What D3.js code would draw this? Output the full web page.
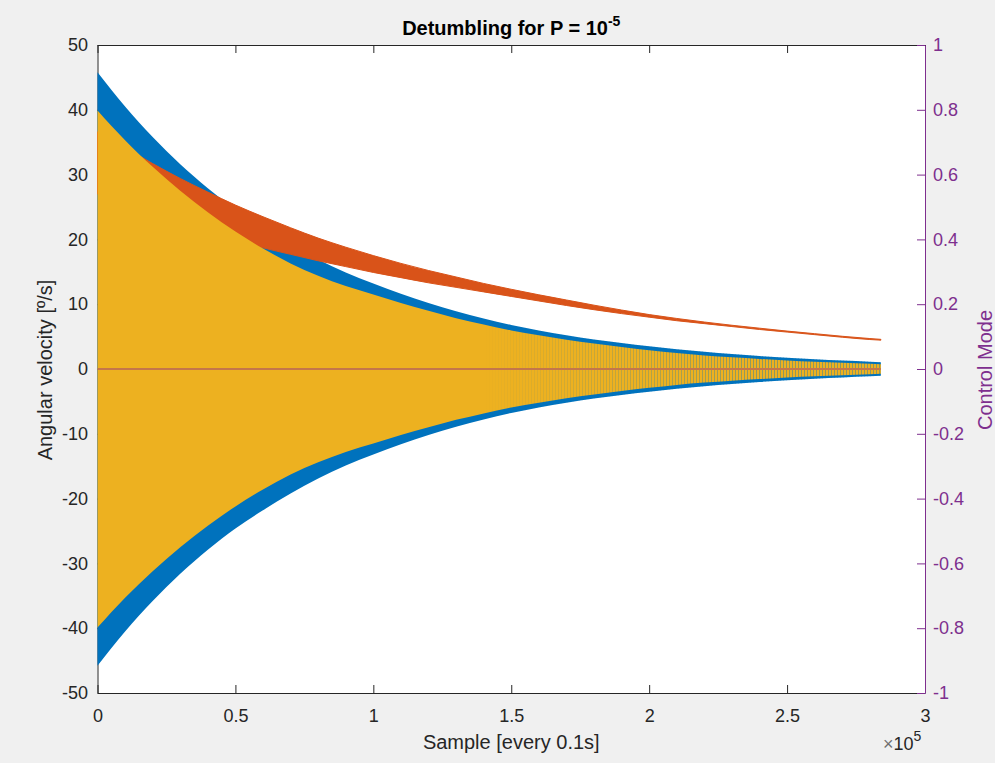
<!DOCTYPE html>
<html><head><meta charset="utf-8">
<script src="https://cdn.jsdelivr.net/npm/d3@7"></script>
<style>
body{margin:0;background:#f0f0f0;}
svg{display:block;font-family:"Liberation Sans",Arial,Helvetica,sans-serif;}
</style>
</head><body>
<svg id="c" width="995" height="763"></svg>
<script>
// sample positions (x10^5)
const samples = [0,0.1,0.2,0.3,0.4,0.5,0.6,0.7,0.8,0.9,1.0,1.1,1.2,1.3,1.4,1.5,1.6,1.7,1.8,1.9,2.0,2.1,2.2,2.3,2.4,2.5,2.6,2.7,2.8,2.84];
// envelope of the blue signal, symmetric about 0
const blueAmp = [45.8,40.5,35.8,31.6,27.9,24.6,21.8,19.2,16.9,14.9,13.2,11.6,10.2,8.9,7.8,6.8,5.95,5.2,4.55,4.0,3.5,3.05,2.65,2.3,2.0,1.75,1.5,1.3,1.12,1.05];
// red signal band, upper and lower limits
const redTop = [36.6,34.2,31.7,29.4,27.3,25.3,23.5,21.8,20.2,18.8,17.5,16.3,15.2,14.2,13.2,12.3,11.45,10.65,9.85,9.1,8.4,7.8,7.25,6.75,6.3,5.85,5.45,5.05,4.7,4.58];
const redBottom = [27,25.5,24,22.6,21.2,19.9,18.7,17.7,16.7,15.8,14.9,14.1,13.3,12.6,11.9,11.2,10.5,9.8,9.15,8.55,8.0,7.45,7.0,6.55,6.1,5.7,5.3,4.9,4.55,4.45];
// envelope of the yellow signal, symmetric about 0
const yellowAmp = [39.9,35.3,31.2,27.5,24.2,21.2,18.6,16.3,14.4,12.8,11.5,10.2,9.0,7.85,6.85,5.95,5.2,4.5,3.92,3.4,2.9,2.45,2.1,1.8,1.55,1.3,1.1,0.95,0.8,0.75];
// control mode (right axis)
const modeX = [0, 2.84];
const modeY = [0, 0];

const xTicks = [0,0.5,1,1.5,2,2.5,3];
const yTicks = [-50,-40,-30,-20,-10,0,10,20,30,40,50];
const rTicks = [-1,-0.8,-0.6,-0.4,-0.2,0,0.2,0.4,0.6,0.8,1];

const W = 995, H = 763;
const L = 97.5, R = 925, T = 45, B = 693;
const txt = "#262626", purple = "#7E2F8E";
const cBlue = "#0072BD", cRed = "#D95319", cYel = "#EDB120";

const svg = d3.select("#c");
svg.append("rect").attr("x",0).attr("y",0).attr("width",W).attr("height",H).attr("fill","#f0f0f0");
svg.append("rect").attr("x",L).attr("y",T).attr("width",R-L).attr("height",B-T).attr("fill","#ffffff");

const x = d3.scaleLinear().domain([0,3]).range([L,R]);
const y = d3.scaleLinear().domain([-50,50]).range([B,T]);
const yR = d3.scaleLinear().domain([-1,1]).range([B,T]);

// defs: hatch pattern for the dense oscillation tail
const defs = svg.append("defs");
const pat = defs.append("pattern").attr("id","hatch").attr("patternUnits","userSpaceOnUse")
  .attr("width",3).attr("height",12);
pat.append("rect").attr("x",0).attr("y",0).attr("width",1).attr("height",12).attr("fill",cBlue).attr("opacity",0.4);
const grad = defs.append("linearGradient").attr("id","fade").attr("gradientUnits","userSpaceOnUse")
  .attr("x1",x(1.4)).attr("x2",x(2.4)).attr("y1",0).attr("y2",0);
grad.append("stop").attr("offset",0).attr("stop-color","#fff").attr("stop-opacity",0);
grad.append("stop").attr("offset",1).attr("stop-color","#fff").attr("stop-opacity",1);
defs.append("mask").attr("id","tailMask").attr("maskUnits","userSpaceOnUse")
  .attr("x",0).attr("y",0).attr("width",W).attr("height",H)
  .append("rect").attr("x",0).attr("y",0).attr("width",W).attr("height",H).attr("fill","url(#fade)");

function styleAxis(g, color, fs){
  g.selectAll("path.domain").attr("stroke", color).attr("stroke-width",1);
  g.selectAll(".tick line").attr("stroke", color);
  g.selectAll(".tick text").attr("fill", color).attr("font-size", fs).attr("font-family",'"Liberation Sans",Arial,sans-serif');
}

// bottom
const gB = svg.append("g").attr("transform",`translate(0,${B})`)
  .call(d3.axisBottom(x).tickValues(xTicks).tickSizeInner(-8).tickSizeOuter(0).tickPadding(16).tickFormat(d=>String(d)));
styleAxis(gB, txt, 18);
// top
const gT = svg.append("g").attr("transform",`translate(0,${T})`)
  .call(d3.axisTop(x).tickValues(xTicks).tickSizeInner(-8).tickSizeOuter(0).tickFormat(""));
styleAxis(gT, txt, 18);
// left
const gL = svg.append("g").attr("transform",`translate(${L},0)`)
  .call(d3.axisLeft(y).tickValues(yTicks).tickSizeInner(-8).tickSizeOuter(0).tickPadding(9.5).tickFormat(d=>String(d)));
styleAxis(gL, txt, 18);
// right
const gR = svg.append("g").attr("transform",`translate(${R},0)`)
  .call(d3.axisRight(yR).tickValues(rTicks).tickSizeInner(-8).tickSizeOuter(0).tickPadding(8).tickFormat(d=>String(d)));
styleAxis(gR, purple, 18);

// data
const idx = d3.range(samples.length);
const curve = d3.curveMonotoneX;
const blueArea = d3.area().curve(curve).x(i=>x(samples[i])).y0(i=>y(-blueAmp[i])).y1(i=>y(blueAmp[i]));
const redArea = d3.area().curve(curve).x(i=>x(samples[i])).y0(i=>y(redBottom[i])).y1(i=>y(redTop[i]));
const yelArea = d3.area().curve(curve).x(i=>x(samples[i])).y0(i=>y(-yellowAmp[i])).y1(i=>y(yellowAmp[i]));

svg.append("path").datum(idx).attr("d",blueArea).attr("fill",cBlue);
svg.append("path").datum(idx).attr("d",redArea).attr("fill",cRed).attr("stroke",cRed).attr("stroke-width",1);
svg.append("path").datum(idx).attr("d",yelArea).attr("fill",cYel);
// striped look where the oscillation becomes resolvable
svg.append("path").datum(idx).attr("d",blueArea).attr("fill","url(#hatch)").attr("mask","url(#tailMask)");

const modeLine = d3.line().x((d,i)=>x(modeX[i])).y((d,i)=>yR(modeY[i]));
svg.append("path").datum(modeX).attr("d",modeLine).attr("fill","none").attr("stroke","#c4764a").attr("stroke-width",2);

// title
const title = svg.append("text").attr("x",(L+R)/2).attr("y",35).attr("text-anchor","middle")
  .attr("font-size",20).attr("font-weight","bold").attr("fill","#000");
title.append("tspan").text("Detumbling for P = 10");
title.append("tspan").attr("dy",-9).attr("font-size",14).text("-5");

// axis labels
svg.append("text").attr("x",(L+R)/2).attr("y",749).attr("text-anchor","middle")
  .attr("font-size",20).attr("fill",txt).text("Sample [every 0.1s]");
svg.append("text").attr("transform","translate(52,370) rotate(-90)").attr("text-anchor","middle")
  .attr("font-size",20).attr("fill",txt).text("Angular velocity [º/s]");
svg.append("text").attr("transform","translate(992,370) rotate(-90)").attr("text-anchor","middle")
  .attr("font-size",20).attr("fill",purple).text("Control Mode");

// exponent
const ex = svg.append("text").attr("x",883).attr("y",750).attr("font-size",18).attr("fill",txt);
ex.append("tspan").attr("fill","#707070").text("×");
ex.append("tspan").text("10");
ex.append("tspan").attr("dy",-9).attr("font-size",14).text("5");
</script>
</body></html>
